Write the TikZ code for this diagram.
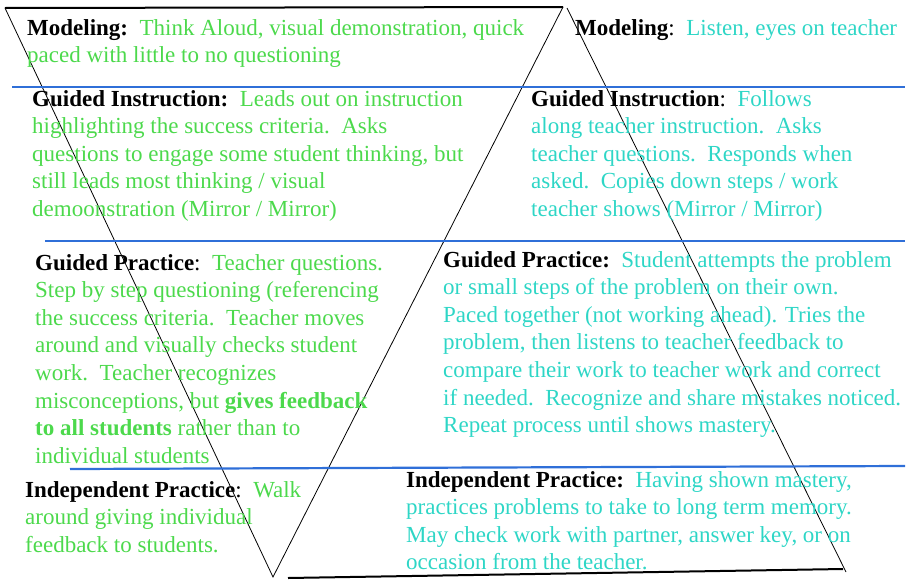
\documentclass[tikz,border=0pt]{standalone}
\usepackage{fontspec}
\setmainfont{Liberation Serif}
\usepackage{tikz}

\definecolor{leafgreen}{HTML}{4CD94C}
\definecolor{aquatext}{HTML}{2ED6C6}
\definecolor{ruleblue}{HTML}{2F6FD8}

\tikzset{
  notes/.style={anchor=north west,align=left,inner sep=0pt,
    font=\fontsize{23}{27.6}\selectfont},
  teacher/.style={notes,text=leafgreen},
  student/.style={notes,text=aquatext},
  rule/.style={ruleblue,line width=2.2pt}
}

\begin{document}
\begin{tikzpicture}[x=1pt,y=-1pt]
        \useasboundingbox (0,0) rectangle (910,581);
        % Draw triangles
        \draw[line width=0.8pt] (5,8) -- (273,577) -- (563,7);
        \draw[line width=2pt] (5,8) -- (563,7); % top of the teacher triangle
        \draw[line width=0.8pt] (567,8) -- (846,572);
        \draw[line width=2pt] (288,578) -- (843,569); % base of the student triangle

        % Draw separators
        \draw[rule] (12,87) -- (905,87);
        \draw[rule] (45,241) -- (905,241);
        \draw[rule] (70,469) -- (905,466);

        % Teacher side
        \node[teacher] (tmodel) at (27,19) {\textcolor{black}{\textbf{Modeling:}}\ \ Think Aloud, visual demonstration, quick\\paced with little to no questioning};
        \node[teacher] (tinstr) at (32,90) {\textcolor{black}{\textbf{Guided Instruction:}}\ \ Leads out on instruction\\highlighting the success criteria.\ \ Asks\\questions to engage some student thinking, but\\still leads most thinking / visual\\demoonstration (Mirror / Mirror)};
        \node[teacher] (tpract) at (35,254) {\textcolor{black}{\textbf{Guided Practice}:}\ \ Teacher questions.\\Step by step questioning (referencing\\the success criteria.\ \ Teacher moves\\around and visually checks student\\work.\ \ Teacher recognizes\\misconceptions, but \textbf{gives feedback}\\\textbf{to all students} rather than to\\individual students};
        \node[teacher] (tindep) at (25,481) {\textcolor{black}{\textbf{Independent Practice}:}\ \ Walk\\around giving individual\\feedback to students.};

        % Student side
        \node[student] (smodel) at (575,19) {\textcolor{black}{\textbf{Modeling}:}\ \ Listen, eyes on teacher};
        \node[student] (sinstr) at (531,90) {\textcolor{black}{\textbf{Guided Instruction}:}\ \ Follows\\along teacher instruction.\ \ Asks\\teacher questions.\ \ Responds when\\asked.\ \ Copies down steps / work\\teacher shows (Mirror / Mirror)};
        \node[student] (spract) at (443,251) {\textcolor{black}{\textbf{Guided Practice:}}\ \ Student attempts the problem\\or small steps of the problem on their own.\\Paced together (not working ahead). Tries the\\problem, then listens to teacher feedback to\\compare their work to teacher work and correct\\if needed.\ \ Recognize and share mistakes noticed.\\Repeat process until shows mastery.};
        \node[student] (sindep) at (406,471) {\textcolor{black}{\textbf{Independent Practice:}}\ \ Having shown mastery,\\practices problems to take to long term memory.\\May check work with partner, answer key, or on\\occasion from the teacher.};
\end{tikzpicture}
\end{document}
